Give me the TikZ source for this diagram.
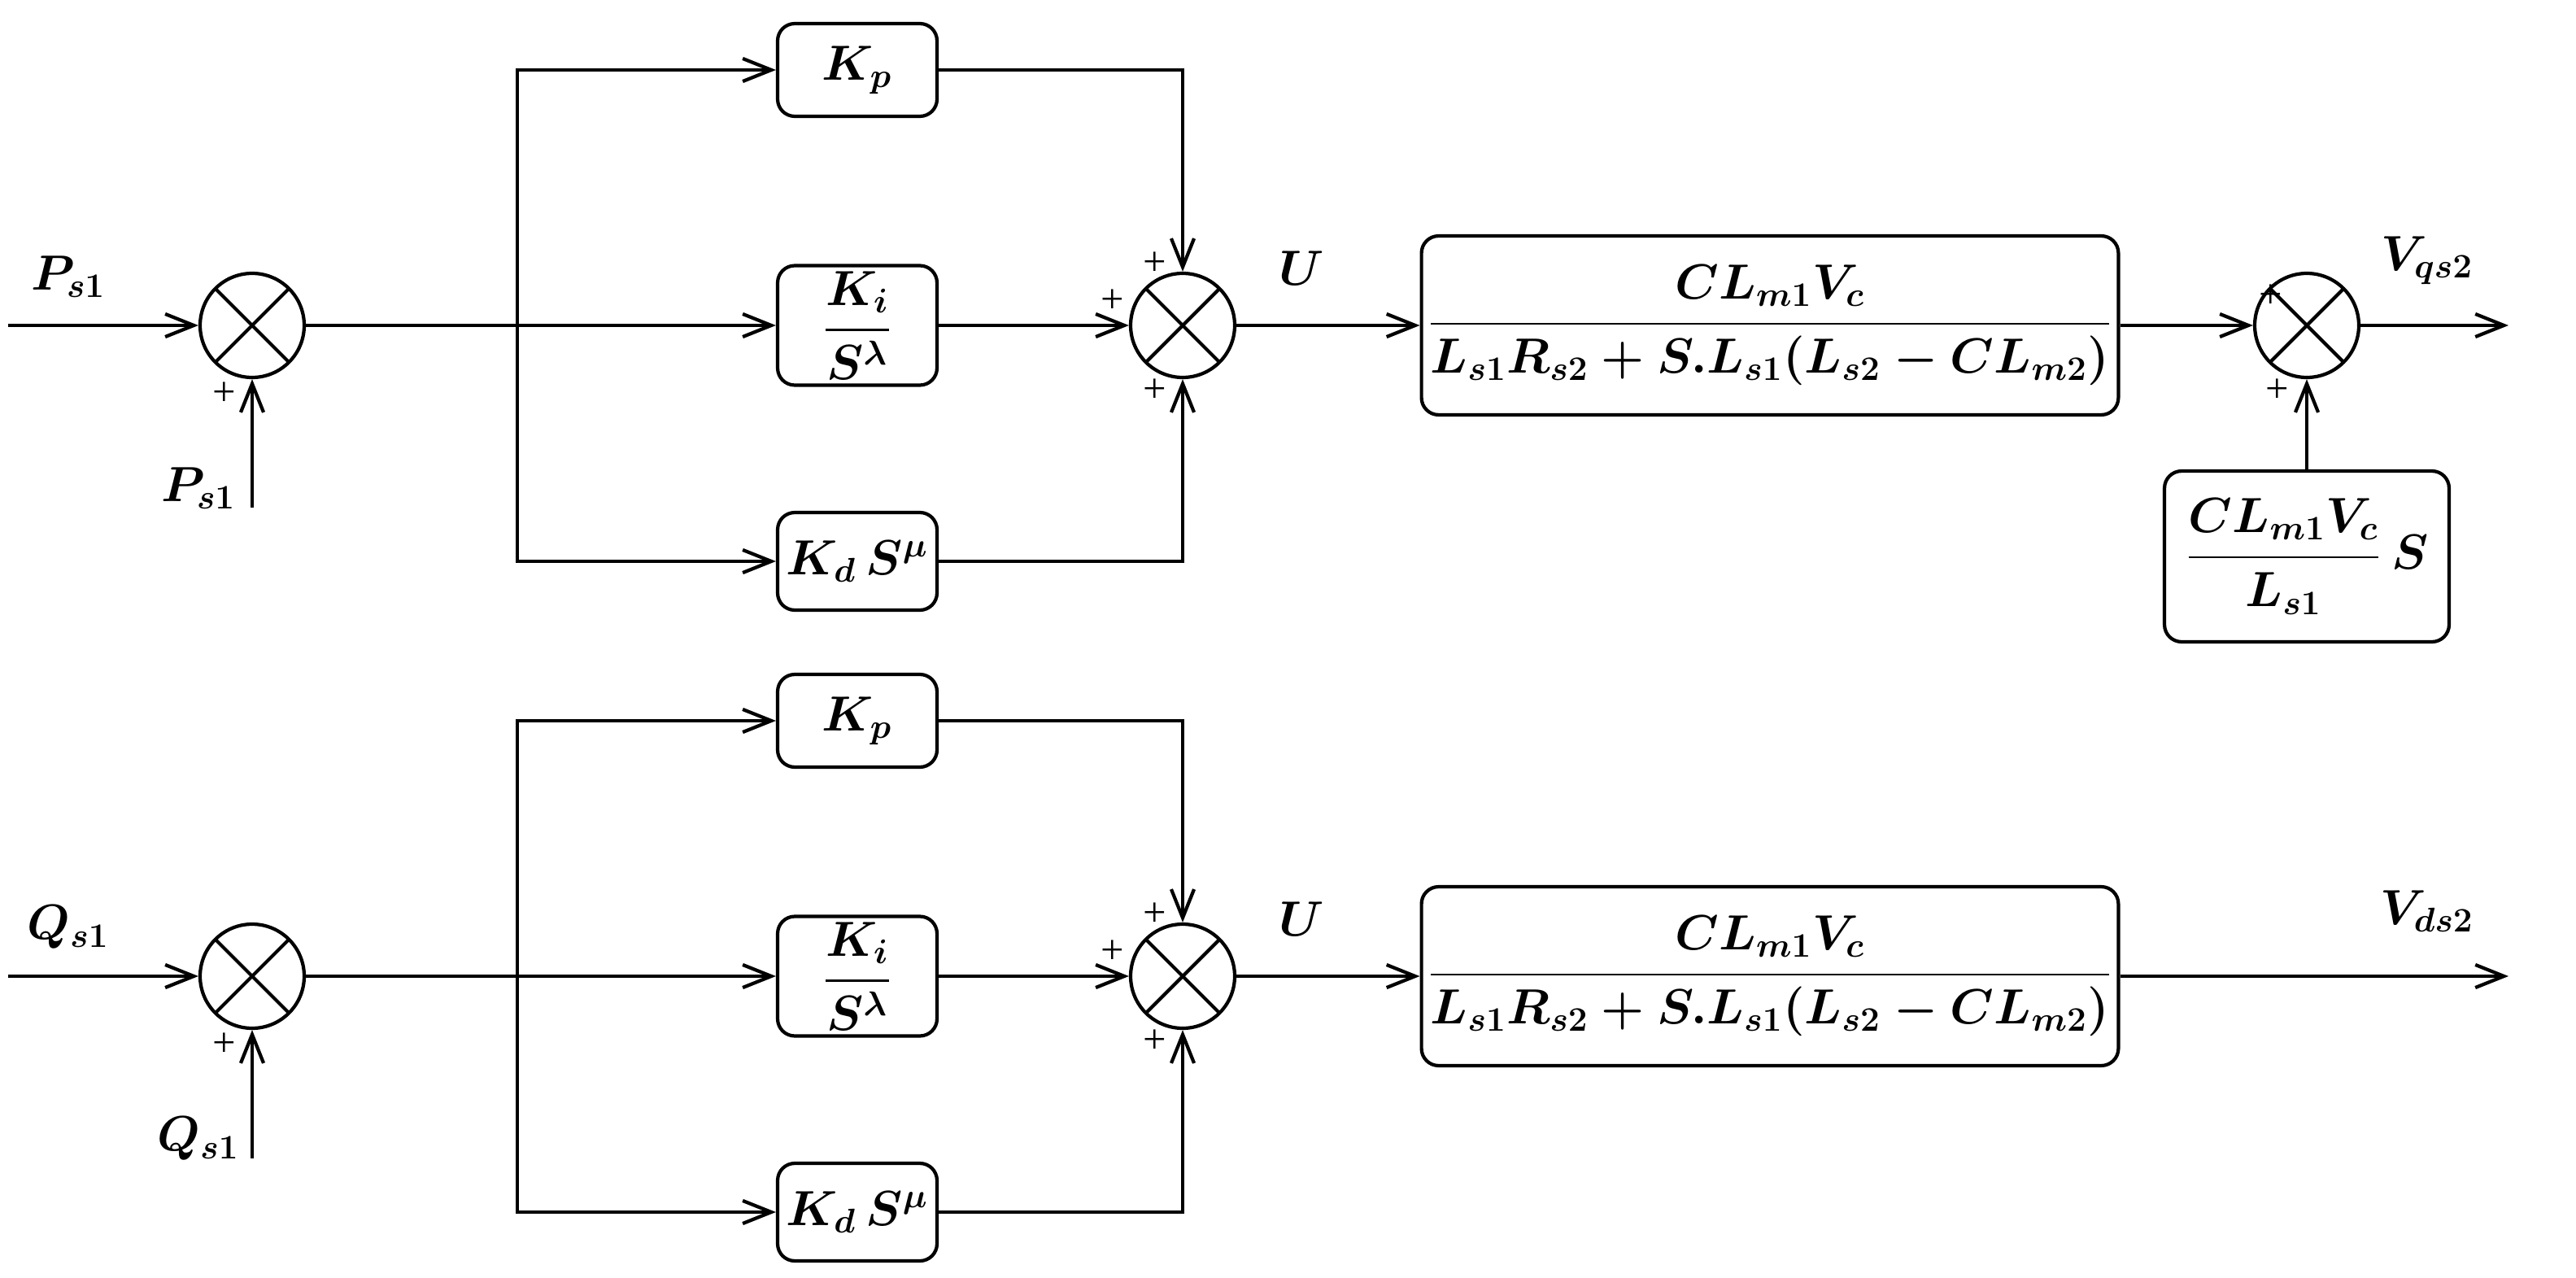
\documentclass[tikz,border=0pt]{standalone}
\usepackage{amsmath}
\usepackage{fontspec}
\setmainfont{Liberation Serif}
\usetikzlibrary{arrows.meta,calc}
\begin{document}
\boldmath
\begin{tikzpicture}[x=0.02cm,y=-0.02cm,
  every node/.style={font=\LARGE\bfseries},
  line width=1.2pt, >={Straight Barb[length=10pt,width=8pt]},
  blk/.style={draw,rounded corners=6pt,inner sep=2pt},
  sum/.style={draw,circle,minimum size=1.28cm,inner sep=0pt,
    path picture={\draw (path picture bounding box.north west)--(path picture bounding box.south east)
      (path picture bounding box.north east)--(path picture bounding box.south west);}},
  lbl/.style={font=\LARGE},
  pl/.style={font=\Large}]
\useasboundingbox (0,0) rectangle (1583.5,785.5);
\foreach \r/\dy/\inp in {a/0/P, b/400/Q}{
  \begin{scope}[yshift={-\dy*0.02cm}]
  \coordinate (\r in) at (5,200);
  \node[sum] (\r s1) at (155,200) {};
  \coordinate (\r in2) at (155,312);
  \coordinate (\r br) at (318,200);
  \node[blk,minimum width=1.96cm,minimum height=1.14cm] (\r kp) at (527,43) {$K_p$};
  \node[blk,minimum width=1.96cm,minimum height=1.4cm] (\r ki) at (527,200) {$\dfrac{K_i}{S^{\lambda}}$};
  \node[blk,minimum width=1.96cm,minimum height=1.2cm] (\r kd) at (527,345) {$K_d\,S^{\mu}$};
  \node[sum] (\r s2) at (727,200) {};
  \node[blk,minimum width=8.5cm,minimum height=2.2cm] (\r tf) at (1088,200)
    {$\dfrac{CL_{m1}V_c}{L_{s1}R_{s2}+S.L_{s1}(L_{s2}-CL_{m2})}$};
  \draw[->] (\r in) -- (\r s1);
  \draw[->] (\r in2) -- (\r s1);
  \node[lbl] at (42,170) {$\inp_{s1}$};
  \node[lbl] at (122,300) {$\inp_{s1}$};
  \node[pl] at (138,242) {+};
  \draw (\r s1) -- (\r br);
  \draw[->] (\r br) |- (\r kp);
  \draw[->] (\r br) |- (\r kd);
  \draw[->] (\r br) -- (\r ki);
  \draw[->] (\r kp) -| (\r s2);
  \draw[->] (\r kd) -| (\r s2);
  \draw[->] (\r ki) -- (\r s2);
  \node[pl] at (684,185) {+};
  \node[pl] at (710,162) {+};
  \node[pl] at (710,240) {+};
  \draw[->] (\r s2) -- (\r tf);
  \node[lbl] at (800,165) {$U$};
  \end{scope}
}
\node[sum] (as3) at (1418,200) {};
\node[blk,minimum width=3.5cm,minimum height=2.1cm] (afb) at (1418,342) {$\dfrac{CL_{m1}V_c}{L_{s1}}\,S$};
\coordinate (aout) at (1542,200);
\draw[->] (atf) -- (as3);
\draw[->] (afb) -- (as3);
\draw[->] (as3) -- (aout);
\node[pl] at (1396,182) {+};
\node[pl] at (1400,240) {+};
\node[lbl] at (1492,160) {$V_{qs2}$};
\coordinate (bout) at (1542,600);
\draw[->] (btf) -- (bout);
\node[lbl] at (1492,560) {$V_{ds2}$};
\end{tikzpicture}
\end{document}
